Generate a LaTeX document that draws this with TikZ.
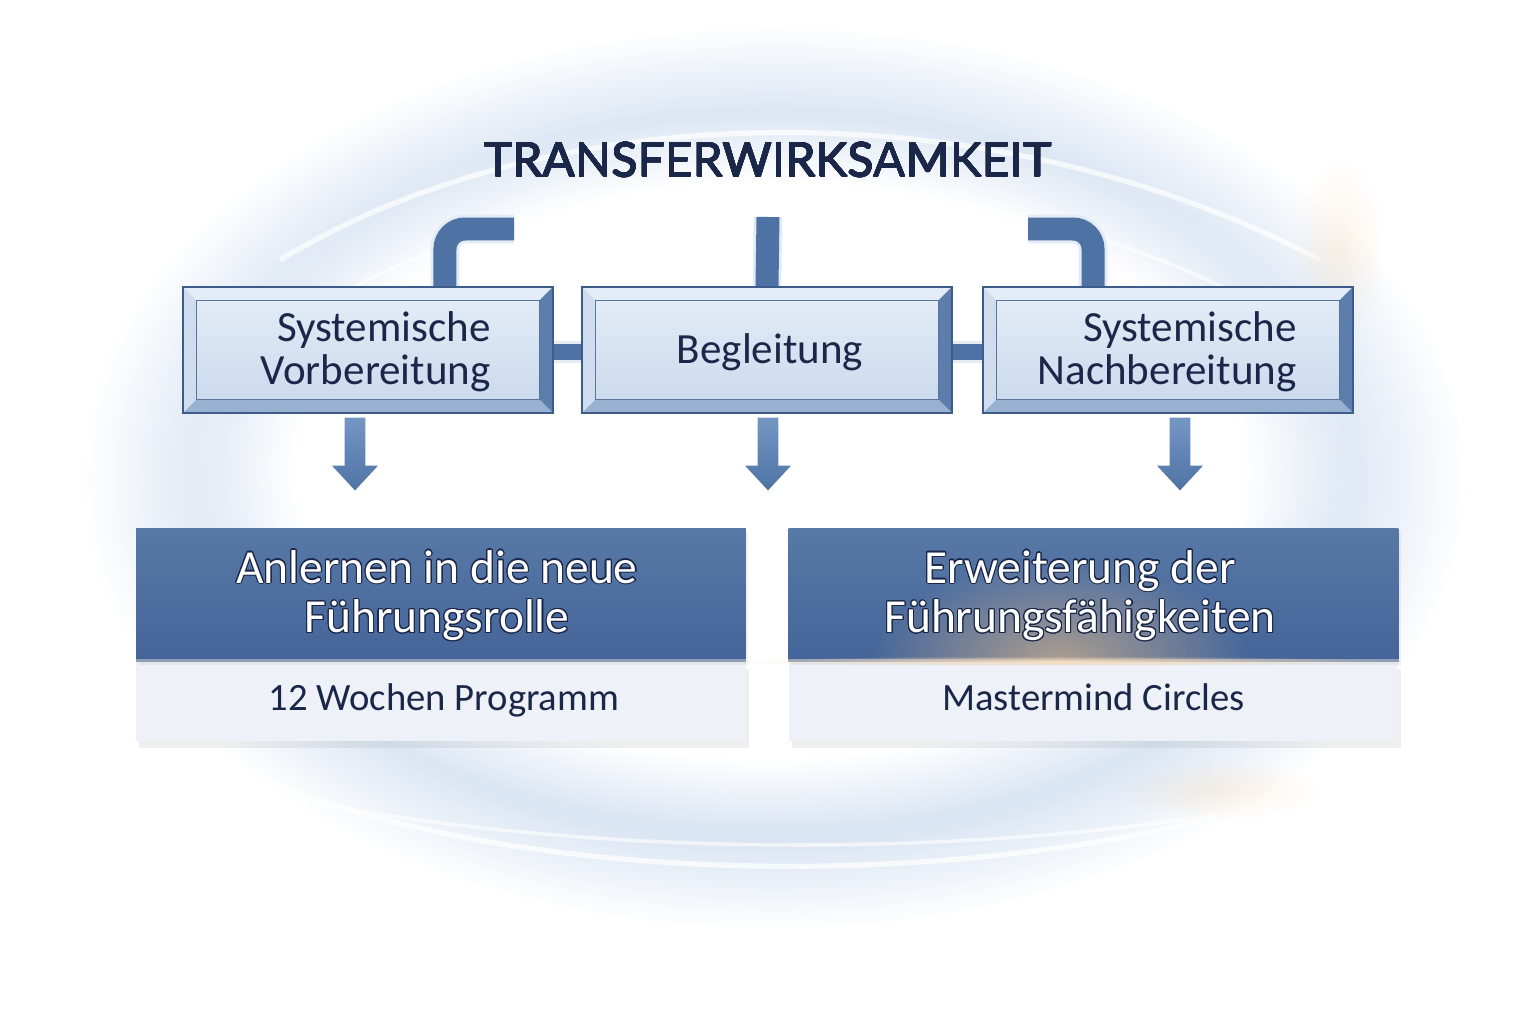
\documentclass[tikz,border=0pt]{standalone}
\usepackage{fontspec}
\setmainfont{Carlito}
\newfontfamily\titlefont{Lato}[LetterSpace=0.8]
\usepackage[copies]{contour}
\contourlength{0.6pt}
\usetikzlibrary{fadings,shadows,calc}
\definecolor{navy}{HTML}{1B2748}
\definecolor{pipeblue}{HTML}{4E72A3}
\definecolor{pipelight}{HTML}{7497C4}
\definecolor{pipeedge}{HTML}{E2EBF6}
\definecolor{frame}{HTML}{3D5C8A}
\definecolor{bevtop}{HTML}{E4EDF7}
\definecolor{bevleft}{HTML}{D0DDEE}
\definecolor{bevright}{HTML}{5D7EAC}
\definecolor{bevbot}{HTML}{98B1D1}
\definecolor{paneltop}{HTML}{E6EEF8}
\definecolor{panelbot}{HTML}{C8D8EC}
\definecolor{hdtop}{HTML}{5878A6}
\definecolor{hdbot}{HTML}{45659A}
\definecolor{subfill}{HTML}{EEF2F8}
\definecolor{sepcol}{HTML}{8E9DB4}
\definecolor{glowblue}{HTML}{DAE5F3}
\definecolor{warm}{HTML}{F3C58A}
\tikzfading[name=softcore, inner color=transparent!0, outer color=transparent!100]
\pgfdeclarelayer{back}
\pgfdeclarelayer{mid}
\pgfsetlayers{back,mid,main}
\newcommand\bevelpic{%
  \path (path picture bounding box.north west) coordinate (pnw)
        (path picture bounding box.north east) coordinate (pne)
        (path picture bounding box.south east) coordinate (pse)
        (path picture bounding box.south west) coordinate (psw);
  \coordinate (inw) at ([shift={(0.27cm,-0.27cm)}]pnw);
  \coordinate (ine) at ([shift={(-0.27cm,-0.27cm)}]pne);
  \coordinate (ise) at ([shift={(-0.27cm,0.27cm)}]pse);
  \coordinate (isw) at ([shift={(0.27cm,0.27cm)}]psw);
  \fill[bevtop] (pnw) -- (pne) -- (ine) -- (inw) -- cycle;
  \fill[bevleft] (pnw) -- (inw) -- (isw) -- (psw) -- cycle;
  \fill[bevright] (pne) -- (pse) -- (ise) -- (ine) -- cycle;
  \fill[bevbot] (psw) -- (isw) -- (ise) -- (pse) -- cycle;
  \draw[frame!85, line width=0.8pt] (inw) rectangle (ise);
}
\newcommand\dnarr[1]{%
  \draw[dnarrow] ($(#1)+(-12,2)$) -- ($(#1)+(12,2)$) -- ($(#1)+(12,50)$) -- ($(#1)+(27,50)$)
    -- ($(#1)+(0,79)$) -- ($(#1)+(-27,50)$) -- ($(#1)+(-12,50)$) -- cycle;}
\begin{document}
\begin{tikzpicture}[x=0.02cm,y=-0.02cm,
  topbox/.style={draw=frame, line width=1.1pt, minimum width=7.4cm, minimum height=2.52cm,
    inner sep=0pt, top color=paneltop, bottom color=panelbot, path picture={\bevelpic}},
  boxtext/.style={text=navy, align=right, inner sep=0pt, font=\fontsize{24.5}{24.5}\selectfont},
  titlestyle/.style={text=navy, inner sep=0pt, font=\titlefont\fontsize{27}{30}\selectfont},
  pipe/.style={draw=pipeedge, line width=1.6pt, double=pipeblue, double distance=0.46cm,
    rounded corners=0.4cm, line cap=butt},
  hpipe/.style={draw=pipeedge, line width=1.4pt, double=pipeblue, double distance=0.34cm, line cap=butt},
  dnarrow/.style={top color=pipelight, bottom color=pipeblue, draw=white, line width=1.8pt, line join=miter},
  header/.style={minimum width=12.2cm, minimum height=2.64cm, inner sep=0pt,
    top color=hdtop, bottom color=hdbot},
  headtext/.style={text=white, align=center, inner sep=0pt, font=\fontsize{27}{28.3}\selectfont},
  sub/.style={minimum width=12.2cm, minimum height=1.58cm, inner sep=0pt, fill=subfill,
    text=navy, font=\fontsize{22}{24}\selectfont, execute at begin node=\strut,
    drop shadow={opacity=0.12, shadow xshift=0.06cm, shadow yshift=-0.14cm}},
]
\useasboundingbox (0,0) rectangle (1536,1024);
\begin{pgfonlayer}{back}
  \fill[white] (0,0) rectangle (1536,1024);
  \fill[glowblue, path fading=circle with fuzzy edge 20 percent] (775,478) ellipse (690 and 450);
  \fill[white, path fading=circle with fuzzy edge 20 percent] (770,470) ellipse (590 and 360);
  \draw[white, line width=3pt, opacity=0.7] (280,260) .. controls (560,90) and (1000,90) .. (1320,260);
  \draw[white, line width=2pt, opacity=0.6] (330,300) .. controls (600,150) and (950,150) .. (1250,300);
  \draw[white, line width=3pt, opacity=0.7] (220,760) .. controls (500,900) and (1050,900) .. (1360,770);
  \draw[white, line width=2pt, opacity=0.6] (300,800) .. controls (600,860) and (1000,860) .. (1300,800);
  \fill[warm, opacity=0.2, path fading=softcore] (1340,250) ellipse (45 and 90);
  \fill[warm, opacity=0.2, path fading=softcore] (1220,790) ellipse (100 and 30);
\end{pgfonlayer}

% title
\node[titlestyle] (title) at (768,160) {\contourlength{0.18pt}\contour{navy}{TRANSFERWIRKSAMKEIT}};

% top boxes
\node[topbox] (b1) at (368,350) {};
\node[boxtext, anchor=east] (t1) at (491,352) {Systemische\\Vorbereitung};
\node[topbox] (b2) at (767,350) {};
\node[boxtext] (t2) at (770,352) {Begleitung};
\node[topbox] (b3) at (1168,350) {};
\node[boxtext, anchor=east] (t3) at (1297,352) {Systemische\\Nachbereitung};

% pipes
\coordinate (pl) at (514,229);
\coordinate (pm) at (768,217);
\coordinate (pr) at (1028,229);
\begin{pgfonlayer}{mid}
  \draw[pipe] ([xshift=1.54cm]b1.north) |- (pl);
  \draw[pipe] (b2.north) -- (pm);
  \draw[pipe] ([xshift=-1.5cm]b3.north) |- (pr);
  \draw[hpipe] ([yshift=-0.04cm]b1.east) -- ([yshift=-0.04cm]b2.west);
  \draw[hpipe] ([yshift=-0.04cm]b2.east) -- ([yshift=-0.04cm]b3.west);
\end{pgfonlayer}

% down arrows
\coordinate (d1) at ([xshift=-0.26cm]b1.south);
\coordinate (d2) at ([xshift=0.02cm]b2.south);
\coordinate (d3) at ([xshift=0.24cm]b3.south);
\dnarr{d1}
\dnarr{d2}
\dnarr{d3}

% bottom boxes
\node[sub, anchor=north] (s1) at (441,662) {\hspace*{0.12cm}12 Wochen Programm};
\node[sub, anchor=north] (s2) at (1093.5,662) {Mastermind Circles};
\node[header, drop shadow={opacity=0.1, shadow xshift=0.05cm, shadow yshift=-0.1cm}] (h1) at (441,594) {};
\node[header, drop shadow={opacity=0.1, shadow xshift=0.05cm, shadow yshift=-0.1cm}] (h2) at (1093.5,594) {};
\begin{scope}
  \clip (h2.north west) rectangle (h2.south east);
  \fill[warm, opacity=0.6, path fading=softcore] (1060,662) ellipse (190 and 100);
\end{scope}
\draw[sepcol, line width=0.07cm] (h1.south west) -- (h1.south east);
\draw[sepcol, line width=0.07cm] (h2.south west) -- (h2.south east);
\fill[warm!60!white, path fading=softcore] (1060,661) ellipse (330 and 5);
\node[headtext] (ht1) at (437,596) {\contour{navy}{Anlernen in die neue}\\\contour{navy}{Führungsrolle}};
\node[headtext] (ht2) at (1080,596) {\contour{navy}{Erweiterung der}\\\contour{navy}{Führungsfähigkeiten}};
\end{tikzpicture}
\end{document}
